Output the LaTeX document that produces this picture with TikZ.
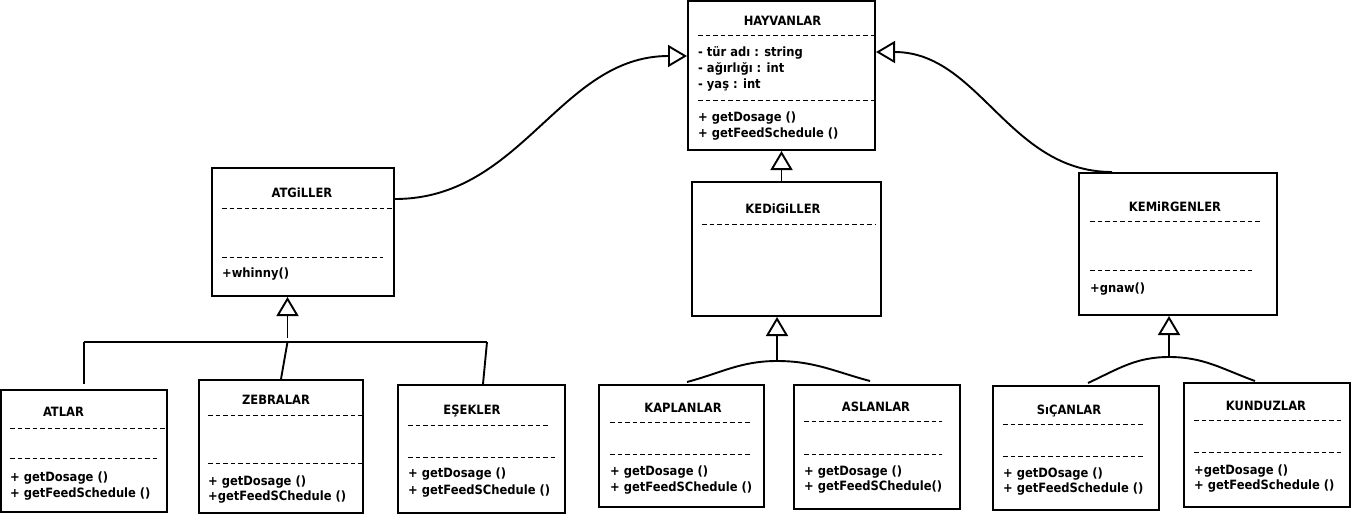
\documentclass[tikz,border=0pt]{standalone}
\usepackage{fontspec}
\setmainfont{DejaVu Sans Condensed}
\usetikzlibrary{arrows.meta,positioning,calc}

\begin{document}
\begin{tikzpicture}[x=1pt,y=-1pt,
  cls/.style={draw,line width=2pt,inner sep=0pt},
  ttl/.style={inner sep=0pt,font=\fontsize{12.8}{14}\selectfont\bfseries,text height=9pt,text depth=0pt},
  txt/.style={ttl,anchor=west},
  sep/.style={line width=0.9pt,dash pattern=on 4.5pt off 3pt},
  lnk/.style={line width=1.9pt},
  inh/.style={lnk,-{Triangle[open,length=19pt,width=22pt]}}]
\fill[white] (0,0) rectangle (1351,515);
\useasboundingbox (0,0) rectangle (1351,515);

% base class
\node[cls,minimum width=187pt,minimum height=149pt] (hay) at (781.5,75.5) {};
\node[ttl] (hayn) at (782.5,21) {HAYVANLAR};
\draw[sep] (698,35) -- (875,35);
\node[txt] (haya1) at (698,52) {- tür adı : string};
\node[txt] (haya2) at (698,68) {- ağırlığı : int};
\node[txt] (haya3) at (698,84) {- yaş : int};
\draw[sep] (698,100) -- (875,100);
\node[txt] (haym1) at (698,117) {+ getDosage ()};
\node[txt] (haym2) at (698,133) {+ getFeedSchedule ()};

% families
\node[cls,minimum width=182pt,minimum height=128pt] (atg) at (303,232) {};
\node[ttl] (atgn) at (302,192.5) {ATGiLLER};
\draw[sep] (222,208) -- (394,208);
\draw[sep] (222,257) -- (383,257);
\node[txt] (atgm1) at (222,272.5) {+whinny()};

\node[cls,minimum width=189pt,minimum height=134pt] (ked) at (786.5,249) {};
\node[ttl] (kedn) at (783,209) {KEDiGiLLER};
\draw[sep] (702,224) -- (875,224);

\node[cls,minimum width=198pt,minimum height=142pt] (kem) at (1178,244) {};
\node[ttl] (kemn) at (1175,207) {KEMiRGENLER};
\draw[sep] (1090,221) -- (1262,221);
\draw[sep] (1090,270) -- (1255,270);
\node[txt] (kemm1) at (1090,287.5) {+gnaw()};

% species
\node[cls,minimum width=166pt,minimum height=122pt] (atl) at (84,451) {};
\node[ttl] (atln) at (63.5,412) {ATLAR};
\draw[sep] (10,428) -- (165,428);
\draw[sep] (10,458) -- (159,458);
\node[txt] (atlm1) at (10,477) {+ getDosage ()};
\node[txt] (atlm2) at (10,493) {+ getFeedSchedule ()};

\node[cls,minimum width=164pt,minimum height=133pt] (zeb) at (281,446.5) {};
\node[ttl] (zebn) at (276,400) {ZEBRALAR};
\draw[sep] (208,415) -- (363,415);
\draw[sep] (208,463) -- (363,463);
\node[txt] (zebm1) at (208,481) {+ getDosage ()};
\node[txt] (zebm2) at (208,496) {+getFeedSChedule ()};

\node[cls,minimum width=167pt,minimum height=128pt] (esk) at (481.5,449) {};
\node[ttl] (eskn) at (472,410) {EŞEKLER};
\draw[sep] (408,425) -- (550,425);
\draw[sep] (408,457) -- (555,457);
\node[txt] (eskm1) at (408,473) {+ getDosage ()};
\node[txt] (eskm2) at (408,490) {+ getFeedSChedule ()};

\node[cls,minimum width=165pt,minimum height=122pt] (kap) at (681.5,446) {};
\node[ttl] (kapn) at (683,408) {KAPLANLAR};
\draw[sep] (610,422) -- (750,422);
\draw[sep] (610,454) -- (750,454);
\node[txt] (kapm1) at (610,471) {+ getDosage ()};
\node[txt] (kapm2) at (610,487) {+ getFeedSChedule ()};

\node[cls,minimum width=166pt,minimum height=124pt] (asl) at (877,447) {};
\node[ttl] (asln) at (876,407) {ASLANLAR};
\draw[sep] (804,421) -- (942,421);
\draw[sep] (804,454) -- (942,454);
\node[txt] (aslm1) at (804,471) {+ getDosage ()};
\node[txt] (aslm2) at (804,486) {+ getFeedSChedule()};

\node[cls,minimum width=166pt,minimum height=124pt] (sic) at (1076,448) {};
\node[ttl] (sicn) at (1069,410) {SıÇANLAR};
\draw[sep] (1003,424) -- (1144,424);
\draw[sep] (1003,456) -- (1144,456);
\node[txt] (sicm1) at (1003,473) {+ getDOsage ()};
\node[txt] (sicm2) at (1003,488) {+ getFeedSchedule ()};

\node[cls,minimum width=166pt,minimum height=124pt] (kun) at (1267,445) {};
\node[ttl] (kunn) at (1266,406) {KUNDUZLAR};
\draw[sep] (1194,420) -- (1342,420);
\draw[sep] (1194,452) -- (1342,452);
\node[txt] (kunm1) at (1194,470) {+getDosage ()};
\node[txt] (kunm2) at (1194,485) {+ getFeedSchedule ()};

% inheritance
\draw[inh] ([yshift=-32pt]atg.north east) to[out=0,in=180] ([yshift=-56pt]hay.north west);
\draw[inh] ([xshift=34pt]kem.north west) to[out=180,in=0] ([yshift=-52pt]hay.north east);
\draw[inh] (hay.south |- ked.north) -- (hay.south);

\coordinate (atgj) at (287.5,342);
\coordinate (atgl) at (84,342);
\coordinate (atgr) at (487,342);
\draw[inh] ([yshift=4pt]atgj) -- (atgj |- atg.south);
\draw[lnk] (atgl) -- (atgr);
\draw[lnk] ([yshift=5pt]atl.north) -- (atgl);
\draw[lnk] (zeb.north) -- (atgj);
\draw[lnk] ([xshift=1.5pt]esk.north) -- (atgr);

\coordinate (kedj) at (777,361);
\draw[inh] (kedj) -- (kedj |- ked.south);
\draw[lnk] ([xshift=5.5pt,yshift=2pt]kap.north) to[out=15,in=180] (kedj) to[out=0,in=165] ([xshift=-7pt,yshift=3pt]asl.north);

\coordinate (kemj) at (1169,357);
\draw[inh] (kemj) -- (kemj |- kem.south);
\draw[lnk] ([xshift=12pt,yshift=2pt]sic.north) to[out=25,in=180] (kemj) to[out=0,in=160] ([xshift=-12pt,yshift=1pt]kun.north);
\end{tikzpicture}
\end{document}
